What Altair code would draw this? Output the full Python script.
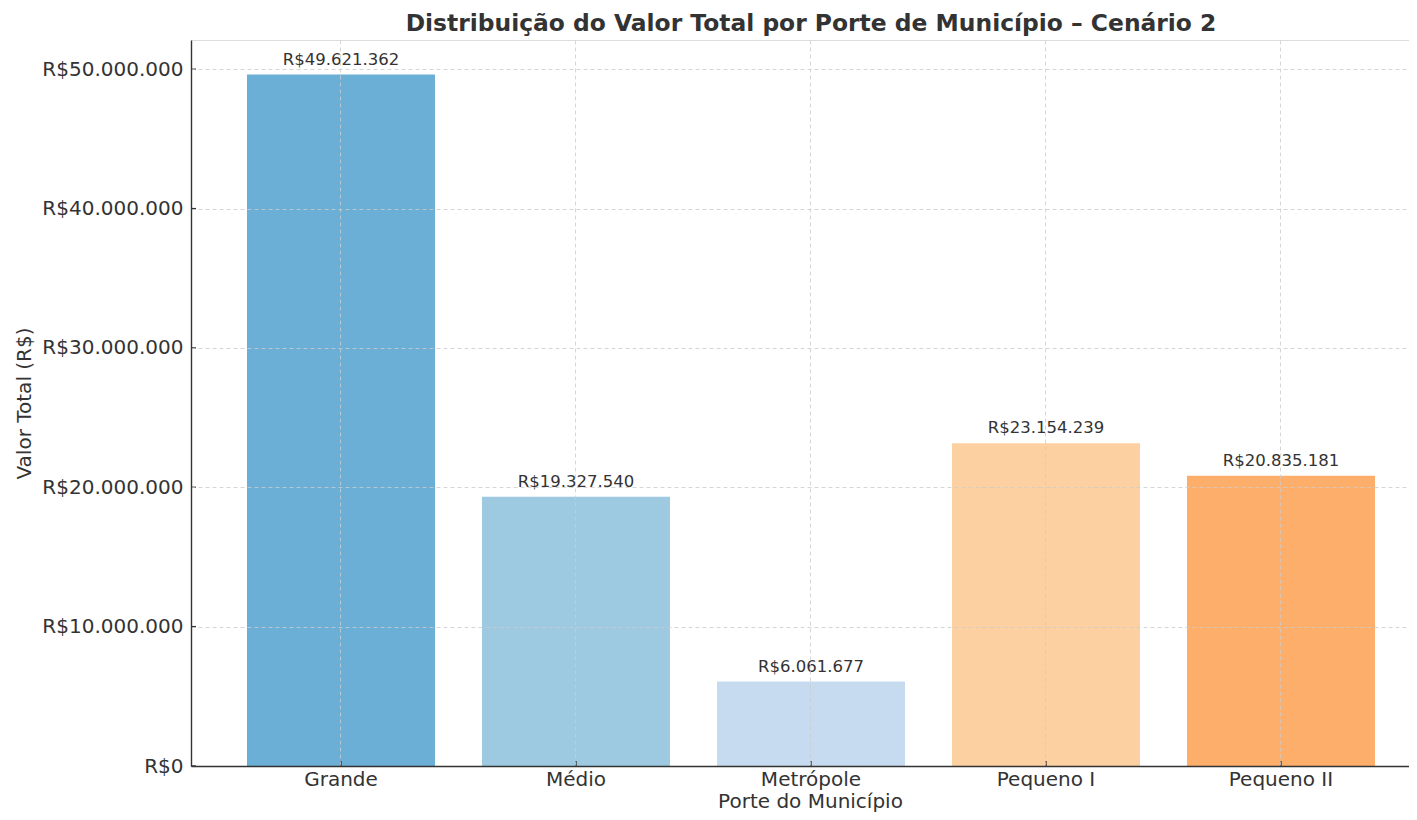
import altair as alt
import pandas as pd

categorias = ["Grande", "Médio", "Metrópole", "Pequeno I", "Pequeno II"]
valores = [49621362, 19327540, 6061677, 23154239, 20835181]
cores = ["#6baed6", "#9ecae1", "#c6dbef", "#fdd0a2", "#fdae6b"]
y_ticks = [0, 10000000, 20000000, 30000000, 40000000, 50000000]

def brl(v):
    return "R$" + f"{v:,.0f}".replace(",", ".")

df = pd.DataFrame({
    "porte": categorias,
    "valor": valores,
    "cor": cores,
    "rotulo": [brl(v) for v in valores],
})
df_ticks = pd.DataFrame({"t": y_ticks})

W, H = 1218, 726
FONT = "DejaVu Sans"
TXT = "#333333"

xscale = alt.Scale(domain=categorias, paddingInner=0.2, paddingOuter=0.1915, align=0.622)
yscale = alt.Scale(domain=[0, 52100000], nice=False, zero=True)

label_expr = "'R$' + replace(replace(replace(format(datum.value, ',.0f'), ',', '.'), ',', '.'), ',', '.')"

bars = alt.Chart(df).mark_bar().encode(
    x=alt.X("porte:N", sort=categorias, scale=xscale,
            title="Porte do Município",
            axis=alt.Axis(labelAngle=0, labelFontSize=20, labelColor=TXT, labelFont=FONT,
                          labelPadding=3, ticks=False, bandPosition=0.5,
                          grid=True, gridColor="#cccccc", gridDash=[4, 3], gridWidth=0.8,
                          domainColor="#333333", domainWidth=1.4,
                          titleFontSize=20, titleFont=FONT, titleColor=TXT, titleFontWeight="normal",
                          titleX=619, titleAlign="center",
                          titleY=41, titleBaseline="alphabetic", zindex=1)),
    y=alt.Y("valor:Q", scale=yscale, title="Valor Total (R$)",
            axis=alt.Axis(values=y_ticks, labelExpr=label_expr, labelFontSize=20,
                          labelColor=TXT, labelFont=FONT, labelPadding=8, ticks=False,
                          grid=True, gridColor="#cccccc", gridDash=[4, 3], gridWidth=0.8,
                          domainColor="#333333", domainWidth=1.4,
                          titleFontSize=20, titleFont=FONT, titleColor=TXT, titleFontWeight="normal",
                          titleX=-167, titleY=H / 2, titleAngle=-90, titleAlign="center",
                          titleBaseline="middle", zindex=1)),
    color=alt.Color("cor:N", scale=None),
)

labels = alt.Chart(df).mark_text(baseline="bottom", dy=-7, fontSize=16.5, font=FONT, color=TXT).encode(
    x=alt.X("porte:N", sort=categorias, scale=xscale),
    y=alt.Y("valor:Q", scale=yscale),
    text="rotulo:N",
)

xticks = alt.Chart(df).mark_rule(color="#333333", strokeWidth=1.4).encode(
    x=alt.X("porte:N", sort=categorias, scale=xscale),
    y=alt.value(H),
    y2=alt.value(H - 5),
)

yticks = alt.Chart(df_ticks).mark_rule(color="#333333", strokeWidth=1.4).encode(
    y=alt.Y("t:Q", scale=yscale),
    x=alt.value(0),
    x2=alt.value(5),
)

chart = alt.layer(bars, labels, xticks, yticks).properties(
    width=W, height=H,
    title=alt.TitleParams(
        "Distribuição do Valor Total por Porte de Município – Cenário 2",
        fontSize=23.4, font=FONT, fontWeight="bold", color=TXT, anchor="middle", dx=11, offset=4,
    ),
    autosize=alt.AutoSizeParams(type="none"),
    padding={"left": 183, "top": 32, "right": 0, "bottom": 46},
).configure_view(stroke=None).configure(background="white")

chart.save("out.html", embed_options={"renderer": "svg", "actions": False})
